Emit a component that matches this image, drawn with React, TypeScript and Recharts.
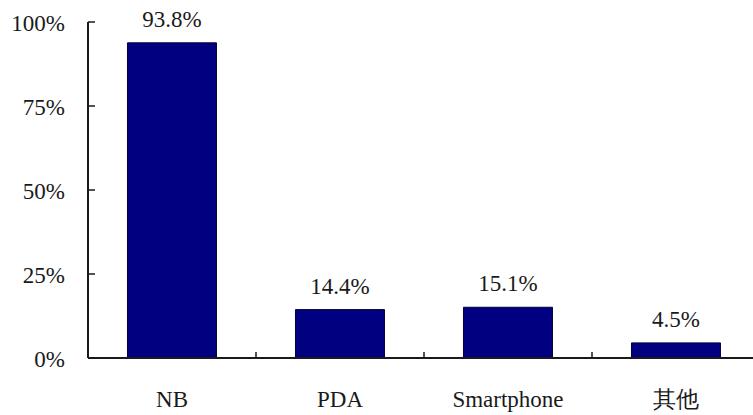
import { BarChart, Bar, XAxis, YAxis, LabelList } from 'recharts';

const categories = ['NB', 'PDA', 'Smartphone', '其他'];
const shares = [93.8, 14.4, 15.1, 4.5];
const yTicks = [0, 25, 50, 75, 100];

const CHART_W = 770;
const CHART_H = 415;
const Y_AXIS_W = 88;
const MARGIN = { top: 22, right: 10, left: 0, bottom: 0 };
const X_AXIS_H = 57;
const FONT = '"Liberation Serif", serif';
const FONT_SIZE = 23;
const INK = '#1a1a1a';

const band = (CHART_W - Y_AXIS_W - MARGIN.left - MARGIN.right) / categories.length;

const data = categories.map((name, i) => ({ name, share: shares[i] }));

const textStyle = { fontFamily: FONT, fontSize: FONT_SIZE, fill: INK };

function YTick(props: any) {
  const { x, y, payload } = props;
  return (
    <g>
      <line x1={x} x2={x + 7} y1={y} y2={y} stroke={INK} strokeWidth={1.5} />
      <text x={x - 23} y={y + 9} textAnchor="end" style={textStyle}>
        {`${payload.value}%`}
      </text>
    </g>
  );
}

function XTick(props: any) {
  const { x, y, payload, index } = props;
  return (
    <g>
      {index > 0 && (
        <line x1={x - band / 2} x2={x - band / 2} y1={y} y2={y - 6} stroke={INK} strokeWidth={1.5} />
      )}
      <text x={x} y={y + 49} textAnchor="middle" style={textStyle}>
        {payload.value}
      </text>
    </g>
  );
}

export default function App() {
  return (
    <div
      style={{
        position: 'absolute',
        left: 0,
        top: 0,
        width: 753,
        height: 415,
        overflow: 'hidden',
        background: '#fff'
      }}
    >
      <BarChart width={CHART_W} height={CHART_H} data={data} margin={MARGIN} barCategoryGap="23.5%">
        <XAxis
          dataKey="name"
          height={X_AXIS_H}
          tickSize={0}
          tickMargin={0}
          tickLine={false}
          axisLine={{ stroke: INK, strokeWidth: 2 }}
          tick={<XTick />}
          interval={0}
        />
        <YAxis
          width={Y_AXIS_W}
          domain={[0, 100]}
          ticks={yTicks}
          tickSize={0}
          tickMargin={0}
          tickLine={false}
          axisLine={{ stroke: INK, strokeWidth: 2 }}
          tick={<YTick />}
          interval={0}
        />
        <Bar dataKey="share" fill="#000080" stroke="#00003a" strokeWidth={1} isAnimationActive={false}>
          <LabelList
            dataKey="share"
            position="top"
            offset={16}
            formatter={(v: number) => `${v.toFixed(1)}%`}
            style={textStyle}
          />
        </Bar>
      </BarChart>
    </div>
  );
}
